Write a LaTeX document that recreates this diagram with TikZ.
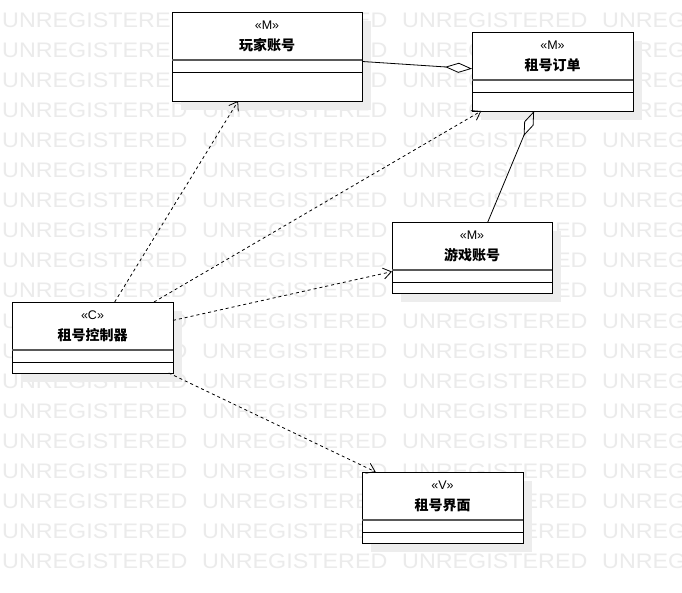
\documentclass[tikz,border=0pt]{standalone}
\usepackage{fontspec}
\setmainfont{Liberation Sans}
\newfontfamily\cjk{Noto Sans CJK SC}
\usetikzlibrary{arrows.meta,calc,shadows}

\tikzset{
    classbox/.style={draw, line width=0.9pt, fill=white, outer sep=0pt,
        drop shadow={shadow xshift=9pt, shadow yshift=-9pt, fill=black!7, opacity=1}},
    stereo/.style={font=\fontsize{12.5}{12.5}\selectfont, inner sep=0pt},
    classname/.style={font=\cjk\bfseries\fontsize{14}{14}\selectfont, inner sep=0pt},
    headbar/.style={draw=black!65, line width=1.3pt},
    bodybar/.style={draw=black, line width=0.9pt},
    depends/.style={line width=0.8pt, dash pattern=on 3pt off 3pt,
        -{Straight Barb[length=8pt, width=11pt, line width=0.8pt]}},
    aggregates/.style={line width=0.8pt,
        -{Diamond[open, length=27pt, width=10pt, line width=0.8pt]}},
    watermark/.style={text=black!8, inner sep=0pt, anchor=base west,
        font=\fontsize{21}{21}\selectfont}
}

\begin{document}
\begin{tikzpicture}[x=1pt, y=-1pt]
    \clip (0,0) rectangle (682,593);
    \fill[white] (0,0) rectangle (682,593);

    % Watermark rows
    \foreach \r in {0,...,18}
        \foreach \c in {0,...,3}
            \node[watermark] at (2+200*\c, 28+30*\r) {\scalebox{1.11}[1]{UNREGISTERED}};

    % Classes
    \node[classbox, minimum width=190pt, minimum height=89pt] (wanjia) at (267,56.5) {};
    \node[classbox, minimum width=161pt, minimum height=79pt] (dingdan) at (552.5,71.5) {};
    \node[classbox, minimum width=160pt, minimum height=71pt] (youxi) at (472,257.5) {};
    \node[classbox, minimum width=161pt, minimum height=71pt] (kongzhi) at (92.5,337.5) {};
    \node[classbox, minimum width=161pt, minimum height=71pt] (jiemian) at (442.5,507.5) {};

    % Stereotypes and names
    \node[stereo] at ($(wanjia.north)+(0,13)$) {«M»};
    \node[classname] at ($(wanjia.north)+(0,33)$) {玩家账号};
    \node[stereo] at ($(dingdan.north)+(0,13)$) {«M»};
    \node[classname] at ($(dingdan.north)+(0,33)$) {租号订单};
    \node[stereo] at ($(youxi.north)+(0,13)$) {«M»};
    \node[classname] at ($(youxi.north)+(0,33)$) {游戏账号};
    \node[stereo] at ($(kongzhi.north)+(0,13)$) {«C»};
    \node[classname] at ($(kongzhi.north)+(0,33)$) {租号控制器};
    \node[stereo] at ($(jiemian.north)+(0,13)$) {«V»};
    \node[classname] at ($(jiemian.north)+(0,33)$) {租号界面};

    % Compartment lines
    \foreach \n in {wanjia,dingdan,youxi,kongzhi,jiemian} {
        \draw[headbar] ($(\n.north west)+(0,48)$) -- ($(\n.north east)+(0,48)$);
        \draw[bodybar] ($(\n.north west)+(0,60)$) -- ($(\n.north east)+(0,60)$);
    }

    % Aggregations
    \draw[aggregates] (wanjia.-3) -- (dingdan.178);
    \draw[aggregates] (youxi.66) -- (dingdan.-115);

    % Dependencies of the controller
    \draw[depends] (kongzhi.58) -- (wanjia.-123);
    \draw[depends] (kongzhi.30) -- (dingdan.-151);
    \draw[depends] (kongzhi.12) -- (youxi.-170);
    \draw[depends] (kongzhi.-25) -- (jiemian.152);
\end{tikzpicture}
\end{document}
